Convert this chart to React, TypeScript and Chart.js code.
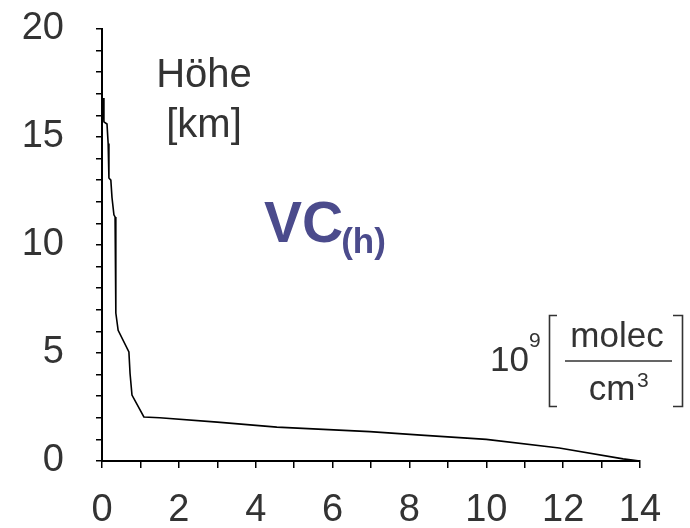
import React, { useEffect, useRef } from 'react';
import { Chart, registerables } from 'chart.js';

Chart.register(...registerables);

// Vertical profile: concentration (10^9 molec/cm^3) vs altitude (km)
const concentration = [0.03, 0.05, 0.13, 0.16, 0.18, 0.23, 0.26, 0.31, 0.34, 0.36, 0.42, 0.70, 0.73, 0.78, 1.09, 1.5, 3.0, 4.55, 6.97, 8.3, 10.0, 11.9, 13.56, 14.0];
const altitude = [16.8, 15.7, 15.6, 14.7, 13.1, 13.0, 12.2, 11.4, 11.3, 6.85, 6.05, 5.05, 4.05, 3.05, 2.04, 2.0, 1.8, 1.57, 1.36, 1.2, 1.0, 0.6, 0.1, 0.0];

const xTickLabels = [0, 2, 4, 6, 8, 10, 12, 14];
const yTickLabels = [0, 5, 10, 15, 20];

const FAMILY = '"Liberation Sans", Arial, Helvetica, sans-serif';
const TEXT = '#333333';
const PURPLE = '#4b4b8c';

const annotationPlugin = {
  id: 'annotations',
  afterDraw(chart: any) {
    const ctx: CanvasRenderingContext2D = chart.ctx;
    ctx.save();
    ctx.textBaseline = 'alphabetic';
    ctx.fillStyle = TEXT;
    ctx.font = `40px ${FAMILY}`;
    ctx.textAlign = 'center';
    ctx.fillText('Höhe', 204, 87);
    ctx.fillText('[km]', 204, 137);

    ctx.textAlign = 'left';
    ctx.fillStyle = PURPLE;
    ctx.font = `bold 57px ${FAMILY}`;
    ctx.fillText('VC', 264, 242);
    const vcW = ctx.measureText('VC').width;
    ctx.font = `bold 35px ${FAMILY}`;
    ctx.fillText('(h)', 262 + vcW, 253);

    // unit block
    ctx.fillStyle = TEXT;
    ctx.font = `35px ${FAMILY}`;
    ctx.fillText('10', 490, 371);
    ctx.font = `21px ${FAMILY}`;
    ctx.fillText('9', 529, 347);

    ctx.strokeStyle = TEXT;
    ctx.lineWidth = 1.6;
    ctx.beginPath();
    ctx.moveTo(557, 315.5);
    ctx.lineTo(549.5, 315.5);
    ctx.lineTo(549.5, 406.5);
    ctx.lineTo(557, 406.5);
    ctx.moveTo(673, 315.5);
    ctx.lineTo(682.5, 315.5);
    ctx.lineTo(682.5, 406.5);
    ctx.lineTo(673, 406.5);
    ctx.moveTo(565, 361);
    ctx.lineTo(672, 361);
    ctx.stroke();

    ctx.textAlign = 'center';
    ctx.font = `35px ${FAMILY}`;
    ctx.fillText('molec', 617, 347);
    ctx.fillText('cm', 612, 400);
    ctx.textAlign = 'left';
    ctx.font = `21px ${FAMILY}`;
    ctx.fillText('3', 637, 387);
    ctx.restore();
  },
};

export default function App() {
  const ref = useRef<HTMLCanvasElement>(null);

  useEffect(() => {
    if (!ref.current) return;
    const data = concentration.map((x, i) => ({ x, y: altitude[i] }));
    const chart = new Chart(ref.current, {
      type: 'scatter',
      data: {
        datasets: [
          {
            data,
            showLine: true,
            borderColor: '#000',
            borderWidth: 1.6,
            pointRadius: 0,
            tension: 0,
            fill: false,
          },
        ],
      },
      options: {
        responsive: false,
        animation: false,
        layout: { padding: { left: 0, right: 50, top: 29, bottom: 0 } },
        plugins: { legend: { display: false }, tooltip: { enabled: false } },
        scales: {
          x: {
            type: 'linear',
            min: 0,
            max: 14,
            afterFit: (s: any) => {
              s.height = 67;
              s.paddingLeft = 0;
              s.paddingRight = 0;
            },
            border: { display: true, color: '#000', width: 2 },
            grid: { drawOnChartArea: false, drawTicks: true, tickLength: 7, color: '#000', lineWidth: 1.5 },
            ticks: {
              stepSize: 1,
              autoSkip: false,
              maxRotation: 0,
              padding: 20,
              color: TEXT,
              font: { size: 38, family: FAMILY },
              callback: (v: any) => (xTickLabels.includes(Number(v)) ? String(v) : ''),
            },
          },
          y: {
            type: 'linear',
            min: 0,
            max: 20,
            afterFit: (s: any) => {
              s.width = 102;
              s.paddingTop = 0;
              s.paddingBottom = 0;
            },
            border: { display: true, color: '#000', width: 2 },
            grid: { drawOnChartArea: false, drawTicks: true, tickLength: 6, color: '#000', lineWidth: 1.5 },
            ticks: {
              stepSize: 1,
              autoSkip: false,
              padding: 32,
              color: TEXT,
              font: { size: 38, family: FAMILY },
              callback: (v: any) => (yTickLabels.includes(Number(v)) ? String(v) : ''),
            },
          },
        },
      },
      plugins: [annotationPlugin],
    });
    return () => chart.destroy();
  }, []);

  return (
    <div style={{ position: 'fixed', left: 0, top: 0, width: 690, height: 528, background: '#fff' }}>
      <canvas ref={ref} width={690} height={528} style={{ width: 690, height: 528 }} />
    </div>
  );
}
